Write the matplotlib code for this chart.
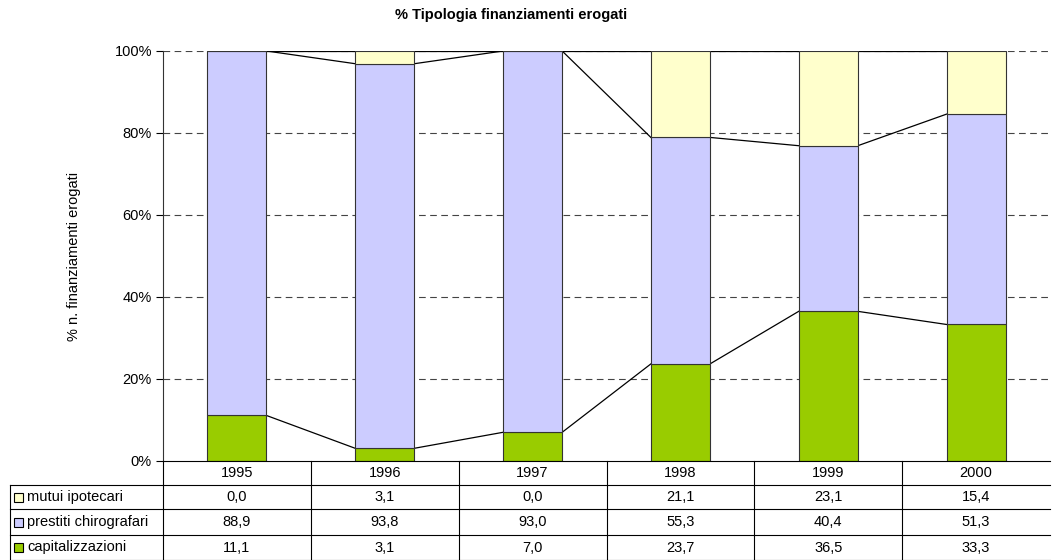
import matplotlib
matplotlib.use('Agg')
import matplotlib.pyplot as plt
from matplotlib.patches import Rectangle
from matplotlib.lines import Line2D

plt.rcParams['font.family'] = ['Liberation Sans', 'DejaVu Sans']

years = ['1995', '1996', '1997', '1998', '1999', '2000']
mutui = [0.0, 3.1, 0.0, 21.1, 23.1, 15.4]
prestiti = [88.9, 93.8, 93.0, 55.3, 40.4, 51.3]
capital = [11.1, 3.1, 7.0, 23.7, 36.5, 33.3]
series_names = ['mutui ipotecari', 'prestiti chirografari', 'capitalizzazioni']

C_MUTUI = '#FFFFCC'
C_PREST = '#CCCCFF'
C_CAP = '#99CC00'

W, H = 1052, 560
fig = plt.figure(figsize=(W / 100, H / 100), dpi=100)
fig.patch.set_facecolor('white')

# plot area in pixels
x0, x1 = 163, 1050
ytop, ybot = 51, 461
ax = fig.add_axes([x0 / W, 1 - ybot / H, (x1 - x0) / W, (ybot - ytop) / H])

n = len(years)
xs = list(range(n))
bw = 0.4

# normalize to 100% stacked
cap_p, pre_p, mut_p = [], [], []
for c, p, m in zip(capital, prestiti, mutui):
    t = c + p + m
    cap_p.append(c / t * 100)
    pre_p.append(p / t * 100)
    mut_p.append(m / t * 100)

bottom2 = cap_p
bottom3 = [a + b for a, b in zip(cap_p, pre_p)]
top3 = [a + b for a, b in zip(bottom3, mut_p)]

for y in [20, 40, 60, 80, 100]:
    ax.axhline(y, color='#444444', lw=0.8, ls=(0, (6, 4)), zorder=0)

ax.bar(xs, cap_p, bw, color=C_CAP, edgecolor='#333333', lw=0.8, zorder=3)
ax.bar(xs, pre_p, bw, bottom=bottom2, color=C_PREST, edgecolor='#333333', lw=0.8, zorder=3)
ax.bar(xs, mut_p, bw, bottom=bottom3, color=C_MUTUI, edgecolor='#333333', lw=0.8, zorder=3)

# series lines between bars
for lvl in [cap_p, bottom3, top3]:
    for i in range(n - 1):
        ax.plot([xs[i] + bw / 2, xs[i + 1] - bw / 2], [lvl[i], lvl[i + 1]],
                color='black', lw=0.9, zorder=2)

ax.set_xlim(-0.5, n - 0.5)
ax.set_ylim(0, 100)
ax.set_yticks([0, 20, 40, 60, 80, 100])
ax.set_yticklabels(['0%', '20%', '40%', '60%', '80%', '100%'], fontsize=10.5)
ax.tick_params(axis='y', direction='out', length=5, width=0.8, pad=3)
ax.set_xticks([])
for s in ['top', 'right', 'bottom']:
    ax.spines[s].set_visible(False)
ax.spines['left'].set_color('#333333')
ax.spines['left'].set_linewidth(0.8)

ax.set_ylabel('% n. finanziamenti erogati', fontsize=10.5, labelpad=24)
fig.text(0.486, 1 - 15 / H, '% Tipologia finanziamenti erogati',
         ha='center', va='center', fontsize=10.5, fontweight='bold')

# data table drawn in figure pixel space
tr = fig.transFigure
def fx(px):
    return px / W
def fy(py):
    return 1 - py / H

rows_y = [461, 485, 509, 535, 560]
legend_x = 10
cw = (x1 - x0) / n
lc = 'black'

def hline(xa, xb, y):
    fig.add_artist(Line2D([fx(xa), fx(xb)], [fy(y), fy(y)], transform=tr, color=lc, lw=0.8))

def vline(x, ya, yb):
    fig.add_artist(Line2D([fx(x), fx(x)], [fy(ya), fy(yb)], transform=tr, color=lc, lw=0.8))

hline(x0, x1, rows_y[0])
for y in rows_y[1:4]:
    hline(legend_x, x1, y)
hline(legend_x, x1, rows_y[4] - 0.5)
vline(legend_x, rows_y[1], rows_y[4])
for i in range(n):
    vline(x0 + i * cw, rows_y[0], rows_y[4])

for i, yr in enumerate(years):
    fig.text(fx(x0 + (i + 0.5) * cw), fy((rows_y[0] + rows_y[1]) / 2), yr,
             ha='center', va='center', fontsize=10.5)

table_rows = [(series_names[0], mutui, C_MUTUI),
              (series_names[1], prestiti, C_PREST),
              (series_names[2], capital, C_CAP)]
for r, (name, vals, col) in enumerate(table_rows):
    ya, yb = rows_y[r + 1], rows_y[r + 2]
    yc = (ya + yb) / 2
    sq = 9
    fig.add_artist(Rectangle((fx(14), fy(yc + sq / 2)), sq / W, sq / H, transform=tr,
                             facecolor=col, edgecolor='black', lw=0.8))
    fig.text(fx(27), fy(yc), name, ha='left', va='center', fontsize=10.5)
    for i, v in enumerate(vals):
        fig.text(fx(x0 + (i + 0.5) * cw), fy(yc), f'{v:.1f}'.replace('.', ','),
                 ha='center', va='center', fontsize=10.5)

fig.savefig('out.png', dpi=100, facecolor='white')
